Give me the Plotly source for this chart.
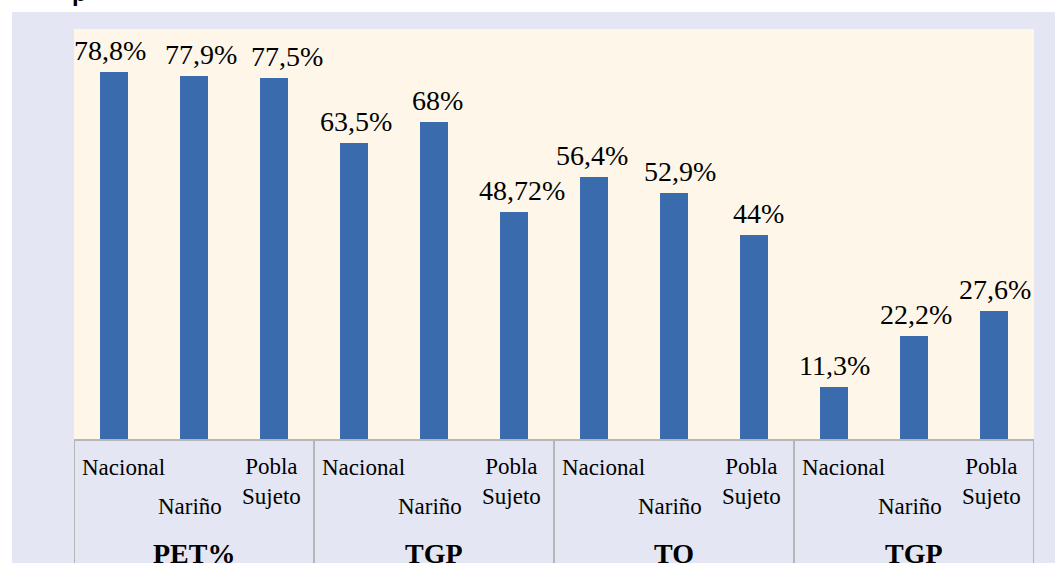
import plotly.graph_objects as go

groups = ["PET%", "TGP", "TO", "TGP"]
subcats = ["Nacional", "Nariño", "Pobla Sujeto"]
values = [78.8, 77.9, 77.5, 63.5, 68, 48.72, 56.4, 52.9, 44, 11.3, 22.2, 27.6]
labels = [f"{v:g}".replace(".", ",") + "%" for v in values]

# horizontal nudges (px) of the value labels, as placed in the original
label_dx = [-4, 7, 13, 2, 3, 8, -2, 6, 4, 0, 2, 1]

n = len(values)
xs = list(range(n))
BAR = "#3a6bad"
PANEL = "#e4e6f3"
PLOTBG = "#fef7e9"
GRID = "#b6b6b6"
SERIF = "Liberation Serif"

fig = go.Figure(go.Bar(
    x=xs, y=values,
    marker=dict(color=BAR, line=dict(width=0)), width=0.34,
    hoverinfo="skip",
))

shapes = [
    dict(type="rect", xref="paper", yref="paper", x0=-0.0646, x1=1.1, y0=-0.4, y1=1.0414,
         fillcolor=PANEL, line=dict(width=0), layer="below"),
    dict(type="rect", xref="paper", yref="paper", x0=0, x1=1, y0=0, y1=1,
         fillcolor=PLOTBG, line=dict(width=0), layer="below"),
    dict(type="line", xref="paper", yref="paper", x0=0, x1=1, y0=0, y1=0,
         line=dict(color=GRID, width=2), layer="above"),
]
annotations = []
for i, (v, t) in enumerate(zip(values, labels)):
    annotations.append(dict(x=xs[i], y=v, xref="x", yref="y", text=t, showarrow=False,
                            xanchor="center", yanchor="bottom", xshift=label_dx[i], yshift=4,
                            font=dict(family=SERIF, size=28, color="black")))

ns = len(subcats)
for gi, g in enumerate(groups):
    start = gi * ns - 0.5
    shapes.append(dict(type="line", xref="x", yref="paper", x0=start, x1=start, y0=0, y1=-0.35,
                       line=dict(color=GRID, width=2)))
    annotations.append(dict(x=gi * ns + 1, y=-0.277, xref="x", yref="paper", text=f"<b>{g}</b>",
                            showarrow=False, xanchor="center", yanchor="middle",
                            font=dict(family=SERIF, size=28, color="black")))
    for si, s in enumerate(subcats):
        xi = gi * ns + si
        if si == 0:
            annotations.append(dict(x=start + 0.075, y=-0.0657, xref="x", yref="paper", text=s,
                                    showarrow=False, xanchor="left", yanchor="middle",
                                    font=dict(family=SERIF, size=23, color="black")))
        elif si == 1:
            annotations.append(dict(x=xi - 0.05, y=-0.163, xref="x", yref="paper", text=s,
                                    showarrow=False, xanchor="center", yanchor="middle",
                                    font=dict(family=SERIF, size=23, color="black")))
        else:
            annotations.append(dict(x=xi - 0.03, y=-0.102, xref="x", yref="paper",
                                    text=s.replace(" ", "<br>"),
                                    showarrow=False, xanchor="center", yanchor="middle",
                                    font=dict(family=SERIF, size=23, color="black")))
end = n - 0.5
shapes.append(dict(type="line", xref="x", yref="paper", x0=end, x1=end, y0=0, y1=-0.35,
                   line=dict(color=GRID, width=2)))

# partially visible title glyph at the very top
annotations.append(dict(x=-0.004, y=1.051, xref="paper", yref="paper", text="<b>p</b>",
                        showarrow=False, xanchor="left", yanchor="bottom",
                        font=dict(family="Liberation Sans", size=24, color="black")))

fig.update_layout(
    width=1055, height=563,
    margin=dict(l=74, r=21, t=29, b=123),
    paper_bgcolor="white", plot_bgcolor="rgba(0,0,0,0)",
    showlegend=False,
    xaxis=dict(range=[-0.5, n - 0.5], showticklabels=False, showgrid=False, zeroline=False,
               showline=False, ticks=""),
    yaxis=dict(range=[0, 88], visible=False, showgrid=False, zeroline=False),
    shapes=shapes, annotations=annotations,
    bargap=0,
)
fig.write_html("out.html", config={"displayModeBar": False},
               post_script="document.body.style.margin='0';document.body.style.overflow='hidden';")
